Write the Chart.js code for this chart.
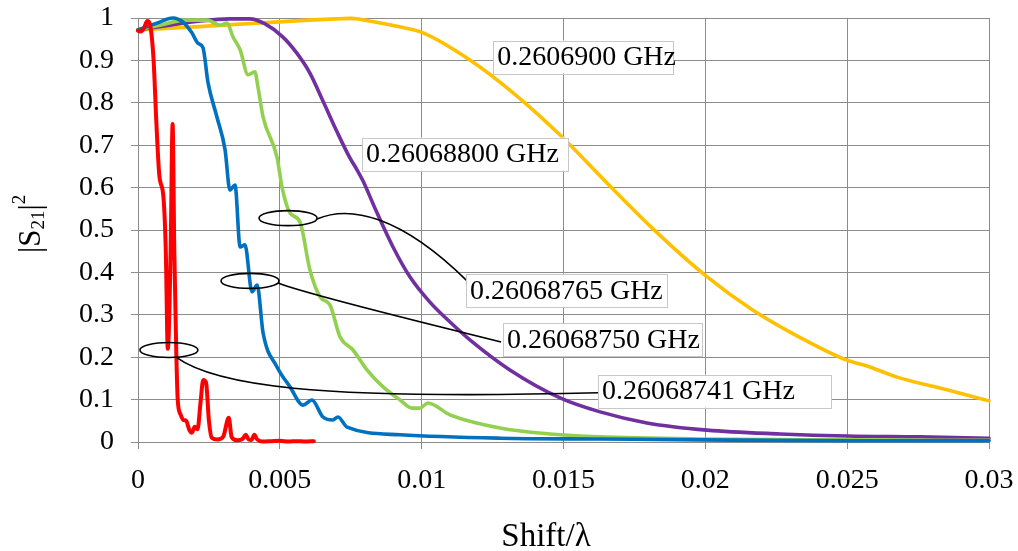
<!DOCTYPE html>
<html>
<head>
<meta charset="utf-8">
<script src="https://cdn.jsdelivr.net/npm/chart.js@4.4.1/dist/chart.umd.min.js"></script>
<style>
  body { margin: 0; background: #fff; }
  #wrap { width: 1018px; height: 551px; }
</style>
</head>
<body>
<div id="wrap"><canvas id="s21Chart" width="1018" height="551"></canvas></div>
<script>
// --- data ---
const xTicks = [0, 0.005, 0.01, 0.015, 0.02, 0.025, 0.03];
const yTicks = [0, 0.1, 0.2, 0.3, 0.4, 0.5, 0.6, 0.7, 0.8, 0.9, 1];

const seriesNames = ['0.26068741 GHz', '0.26068750 GHz', '0.26068765 GHz', '0.26068800 GHz', '0.2606900 GHz'];

const redX = [0, 0.0001, 0.0002, 0.00033, 0.00045, 0.00055, 0.00065, 0.00075, 0.0009, 0.00098, 0.00105, 0.00115, 0.00122, 0.00128, 0.00135, 0.0014, 0.0015, 0.0016, 0.0017, 0.0018, 0.0019, 0.002, 0.0021, 0.0022, 0.0023, 0.0024, 0.0025, 0.0026, 0.0028, 0.003, 0.0032, 0.0033, 0.0035, 0.0037, 0.0038, 0.0039, 0.004, 0.0041, 0.0042, 0.0044, 0.0047, 0.005, 0.0053, 0.0056, 0.0059, 0.0062];
const redY = [0.97, 0.968, 0.975, 0.993, 0.975, 0.9, 0.75, 0.63, 0.575, 0.45, 0.22, 0.45, 0.75, 0.45, 0.21, 0.1, 0.065, 0.052, 0.05, 0.03, 0.022, 0.036, 0.03, 0.09, 0.146, 0.14, 0.05, 0.01, 0.006, 0.012, 0.057, 0.012, 0.004, 0.008, 0.017, 0.006, 0.005, 0.017, 0.006, 0.001, 0.002, 0.003, 0.001, 0.002, 0.001, 0.002];

const blueX = [0, 0.00067, 0.00123, 0.00159, 0.0019, 0.00212, 0.00229, 0.00247, 0.00278, 0.00307, 0.00324, 0.00342, 0.0036, 0.00377, 0.00402, 0.0042, 0.00441, 0.0049, 0.00536, 0.00582, 0.00613, 0.00652, 0.00687, 0.00705, 0.00737, 0.00924, 0.01276, 0.0163, 0.01981, 0.0251, 0.03];
const blueY = [0.972, 0.988, 1.0, 0.99, 0.965, 0.94, 0.93, 0.847, 0.767, 0.689, 0.594, 0.606, 0.46, 0.465, 0.354, 0.37, 0.257, 0.177, 0.13, 0.087, 0.099, 0.059, 0.052, 0.059, 0.035, 0.017, 0.009, 0.007, 0.005, 0.003, 0.003];

const greenX = [0, 0.00078, 0.00166, 0.00243, 0.00289, 0.00314, 0.00335, 0.0036, 0.00388, 0.00412, 0.00423, 0.00441, 0.0049, 0.00508, 0.00536, 0.00571, 0.00606, 0.00642, 0.00677, 0.00712, 0.00758, 0.00807, 0.00864, 0.00924, 0.00966, 0.00994, 0.01022, 0.011, 0.01276, 0.01452, 0.01629, 0.01981, 0.0251, 0.03];
const greenY = [0.972, 0.983, 0.995, 0.995, 0.983, 0.988, 0.955, 0.925, 0.866, 0.873, 0.837, 0.766, 0.672, 0.6, 0.54, 0.519, 0.406, 0.342, 0.323, 0.248, 0.217, 0.17, 0.13, 0.099, 0.08, 0.08, 0.092, 0.064, 0.033, 0.019, 0.012, 0.007, 0.005, 0.004];

const purpleX = [0, 0.00113, 0.00219, 0.00324, 0.00395, 0.00448, 0.00511, 0.0056, 0.00606, 0.00652, 0.00702, 0.00747, 0.00772, 0.00793, 0.00835, 0.00899, 0.00959, 0.01029, 0.011, 0.0117, 0.01311, 0.01488, 0.01629, 0.01794, 0.02006, 0.02263, 0.025, 0.02757, 0.03];
const purpleY = [0.972, 0.983, 0.993, 0.998, 0.998, 0.986, 0.955, 0.917, 0.87, 0.804, 0.731, 0.67, 0.642, 0.616, 0.552, 0.46, 0.389, 0.33, 0.283, 0.241, 0.17, 0.104, 0.071, 0.045, 0.028, 0.019, 0.014, 0.012, 0.009];

const yellowX = [0, 0.002, 0.004, 0.006, 0.007, 0.0075, 0.0084, 0.0093, 0.01005, 0.0117, 0.01336, 0.01488, 0.01653, 0.01823, 0.02002, 0.02168, 0.02358, 0.02499, 0.0258, 0.02676, 0.02852, 0.03];
const yellowY = [0.972, 0.979, 0.987, 0.995, 0.998, 0.999, 0.99, 0.978, 0.965, 0.901, 0.816, 0.724, 0.611, 0.498, 0.392, 0.311, 0.238, 0.193, 0.177, 0.153, 0.123, 0.097];

// annotation callouts (data units)
const labelX = [0.01252, 0.0079, 0.01156, 0.01287, 0.01622];
const labelY = [0.908, 0.679, 0.358, 0.241, 0.12];
const labelText = ['0.2606900 GHz', '0.26068800 GHz', '0.26068765 GHz', '0.26068750 GHz', '0.26068741 GHz'];
const ellipseX = [0.00529, 0.00395, 0.00109];
const ellipseY = [0.528, 0.38, 0.217];
const connectorX = [
    [0.00631, 0.00747, 0.00924, 0.0116],
    [0.00494, 0.00571, 0.00994, 0.0128],
    [0.00134, 0.00271, 0.00606, 0.01622]
];
const connectorY = [
    [0.526, 0.559, 0.535, 0.38],
    [0.375, 0.354, 0.283, 0.236],
    [0.2, 0.134, 0.099, 0.116]
];

const SERIF = "'Liberation Serif', 'Times New Roman', serif";
const GRID = '#8c8c8c';

function pts(xs, ys) {
    return xs.map((x, i) => ({ x: x, y: ys[i] }));
}

function line(label, xs, ys, color, width) {
    return {
        label: label,
        data: pts(xs, ys),
        borderColor: color,
        backgroundColor: color,
        borderWidth: width,
        pointRadius: 0,
        showLine: true,
        cubicInterpolationMode: 'monotone',
        borderJoinStyle: 'round',
        borderCapStyle: 'round',
        clip: false
    };
}

// --- callouts, ellipses and axis titles ---
const calloutPlugin = {
    id: 'callouts',
    afterDatasetsDraw(chart) {
        const ctx = chart.ctx;
        const xs = chart.scales.x, ys = chart.scales.y;
        ctx.save();
        ctx.strokeStyle = '#000';
        ctx.lineWidth = 1.6;
        // ellipses
        ellipseX.forEach((ex, i) => {
            ctx.beginPath();
            ctx.ellipse(xs.getPixelForValue(ex), ys.getPixelForValue(ellipseY[i]), 29, 7.5, 0, 0, Math.PI * 2);
            ctx.stroke();
        });
        // connectors
        connectorX.forEach((cx, i) => {
            const p = cx.map((v, k) => [xs.getPixelForValue(v), ys.getPixelForValue(connectorY[i][k])]);
            ctx.beginPath();
            ctx.moveTo(p[0][0], p[0][1]);
            ctx.bezierCurveTo(p[1][0], p[1][1], p[2][0], p[2][1], p[3][0], p[3][1]);
            ctx.stroke();
        });
        // label boxes
        const boxW = [180, 206, 201, 199, 233];
        ctx.font = '28px ' + SERIF;
        ctx.textBaseline = 'middle';
        ctx.textAlign = 'left';
        labelText.forEach((t, i) => {
            const lx = xs.getPixelForValue(labelX[i]);
            const ly = ys.getPixelForValue(labelY[i]);
            ctx.fillStyle = '#fff';
            ctx.fillRect(lx, ly - 16.5, boxW[i], 33);
            ctx.strokeStyle = '#c8c8c8';
            ctx.lineWidth = 1;
            ctx.strokeRect(Math.round(lx) + 0.5, Math.round(ly - 16.5) + 0.5, boxW[i], 33);
            ctx.fillStyle = '#000';
            ctx.fillText(t, lx + 4, ly + 1);
        });
        ctx.restore();
    },
    afterDraw(chart) {
        const ctx = chart.ctx;
        ctx.save();
        ctx.fillStyle = '#000';
        // x title
        ctx.font = '33px ' + SERIF;
        ctx.textAlign = 'center';
        ctx.textBaseline = 'alphabetic';
        ctx.fillText('Shift/\u03bb', 546, 546);
        // y title |S21|2, rotated
        ctx.translate(40, 253);
        ctx.rotate(-Math.PI / 2);
        ctx.textAlign = 'left';
        const big = '31px ' + SERIF, small = '19px ' + SERIF;
        let pos = 0;
        const piece = (txt, font, dy) => {
            ctx.font = font;
            ctx.fillText(txt, pos, dy);
            pos += ctx.measureText(txt).width;
        };
        piece('|S', big, 0);
        piece('21', small, 4);
        piece('|', big, 0);
        piece('2', small, -15);
        ctx.restore();
    }
};

new Chart(document.getElementById('s21Chart'), {
    type: 'scatter',
    data: {
        datasets: [
            line(seriesNames[0], redX, redY, '#ff0000', 4),
            line(seriesNames[1], blueX, blueY, '#0070c0', 3.6),
            line(seriesNames[2], greenX, greenY, '#92d050', 3.6),
            line(seriesNames[3], purpleX, purpleY, '#7030a0', 3.6),
            line(seriesNames[4], yellowX, yellowY, '#ffc000', 3.6)
        ]
    },
    options: {
        responsive: false,
        animation: false,
        devicePixelRatio: 1,
        layout: { padding: { left: 0, top: 18, right: 29, bottom: 0 } },
        scales: {
            x: {
                type: 'linear',
                min: xTicks[0],
                max: xTicks[xTicks.length - 1],
                afterBuildTicks: s => { s.ticks = xTicks.map(v => ({ value: v })); },
                afterFit: s => { s.height = 109; s.paddingLeft = 0; s.paddingRight = 0; },
                ticks: {
                    color: '#000',
                    padding: 15,
                    maxRotation: 0,
                    font: { family: SERIF, size: 28 },
                    callback: v => String(+v.toFixed(4))
                },
                grid: { color: GRID, lineWidth: 1, tickLength: 7 },
                border: { color: GRID, width: 1 }
            },
            y: {
                min: yTicks[0],
                max: yTicks[yTicks.length - 1],
                afterBuildTicks: s => { s.ticks = yTicks.map(v => ({ value: v })); },
                afterFit: s => { s.width = 138; s.paddingTop = 0; s.paddingBottom = 0; },
                ticks: {
                    color: '#000',
                    padding: 17,
                    font: { family: SERIF, size: 28 },
                    callback: v => String(+v.toFixed(2))
                },
                grid: { color: GRID, lineWidth: 1, tickLength: 7 },
                border: { color: GRID, width: 1 }
            }
        },
        plugins: {
            legend: { display: false },
            tooltip: { enabled: false }
        }
    },
    plugins: [calloutPlugin]
});
</script>
</body>
</html>
